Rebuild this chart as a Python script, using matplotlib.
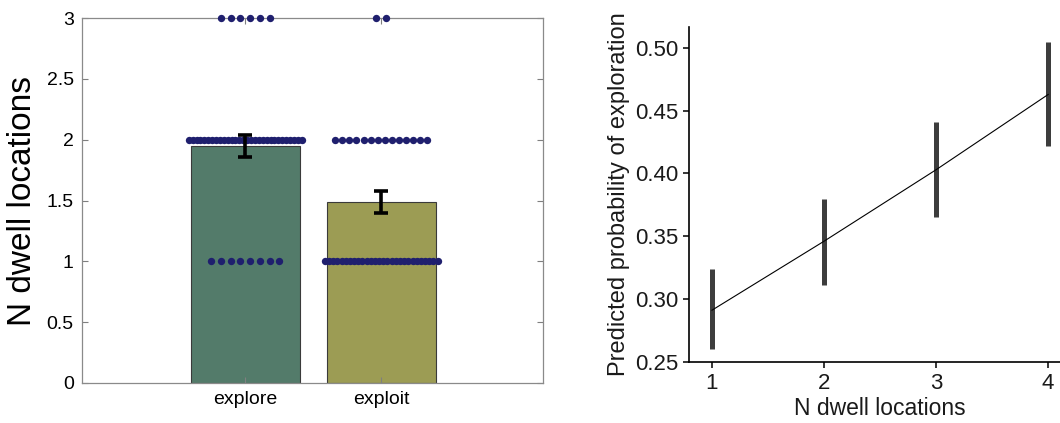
import numpy as np
import matplotlib
matplotlib.use("Agg")
import matplotlib.pyplot as plt

plt.rcParams['font.family'] = ['Liberation Sans', 'DejaVu Sans']

# ---- Left panel data ----
conditions = ["explore", "exploit"]
bar_means = [1.95, 1.49]
err_low = [1.86, 1.40]
err_high = [2.04, 1.58]
# individual participant values: counts of dots at each level
levels = [1, 2, 3]
explore_counts = [8, 30, 6]
exploit_counts = [28, 14, 2]

# ---- Right panel data ----
n_dwell = [1, 2, 3, 4]
pred_prob = [0.291, 0.346, 0.403, 0.463]
pred_low = [0.260, 0.311, 0.365, 0.422]
pred_high = [0.324, 0.380, 0.441, 0.505]

fig = plt.figure(figsize=(10.6, 4.23), dpi=100)

# ---------- Left ----------
ax = fig.add_axes([0.0774, 0.0946, 0.4349, 0.8628])
xpos = np.array([1, 2])
bar_colors = ["#537b6a", "#9c9c54"]
ax.bar(xpos, bar_means, width=0.8, color=bar_colors, edgecolor="#3a3a3a",
       linewidth=0.8, zorder=1)

dot_color = "#1f1f6e"
for xi, counts in zip(xpos, [explore_counts, exploit_counts]):
    for lv, n in zip(levels, counts):
        if n < 10:
            width = 0.072 * (n - 1)
        else:
            width = min(0.83, 0.052 * (n - 1))
        offs = np.linspace(-width / 2, width / 2, n) if n > 1 else np.array([0.0])
        ax.scatter(xi + offs, np.full(n, lv), s=28, color=dot_color,
                   zorder=3, linewidths=0, clip_on=False)

means = np.array(bar_means)
yerr = np.array([means - np.array(err_low), np.array(err_high) - means])
ax.errorbar(xpos, means, yerr=yerr, fmt="none", ecolor="black",
            elinewidth=2.6, capsize=5, capthick=2.6, zorder=4)

ax.set_xlim(-0.2, 3.19)
ax.set_ylim(0, 3)
ax.set_xticks(xpos)
ax.set_xticklabels(conditions, fontsize=14)
ax.set_yticks([0, 0.5, 1, 1.5, 2, 2.5, 3])
ax.set_yticklabels(["0", "0.5", "1", "1.5", "2", "2.5", "3"], fontsize=14)
ax.tick_params(direction="in", length=4, width=0.8, color="#7f7f7f",
               top=True, right=True, pad=6)
for sp in ax.spines.values():
    sp.set_color("#8a8a8a")
    sp.set_linewidth(0.9)
ax.set_ylabel("N dwell locations", fontsize=24, labelpad=6)

# ---------- Right ----------
ax2 = fig.add_axes([0.650, 0.1442, 0.36, 0.792])
pp = np.array(pred_prob)
ax2.vlines(n_dwell, pred_low, pred_high, color="#3d3d3d", linewidth=3.6, zorder=2)
ax2.plot(n_dwell, pp, color="black", linewidth=0.8, zorder=3)
ax2.set_xlim(0.795, 4.2)
ax2.set_ylim(0.2497, 0.5168)
ax2.set_xticks(n_dwell)
ax2.set_xticklabels([str(v) for v in n_dwell], fontsize=16, color="#1a1a1a")
yt = [0.25, 0.30, 0.35, 0.40, 0.45, 0.50]
ax2.set_yticks(yt)
ax2.set_yticklabels([f"{v:.2f}" for v in yt], fontsize=16, color="#1a1a1a")
ax2.tick_params(direction="out", length=4, width=1.1, color="black", pad=4)
ax2.spines["top"].set_visible(False)
ax2.spines["right"].set_visible(False)
ax2.spines["left"].set_linewidth(1.2)
ax2.spines["bottom"].set_linewidth(1.2)
ax2.set_xlabel("N dwell locations", fontsize=16.5, color="#1a1a1a", labelpad=2)
ax2.set_ylabel("Predicted probability of exploration", fontsize=17,
               color="#1a1a1a", labelpad=3)

fig.savefig("out.png", dpi=100)
